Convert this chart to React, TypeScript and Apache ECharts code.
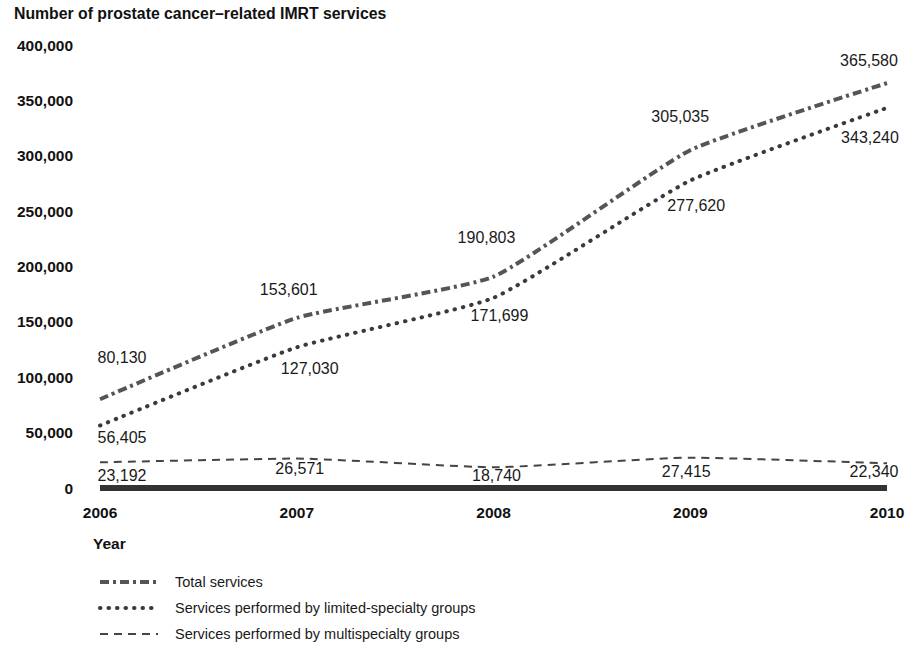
import React, { useEffect, useRef } from "react";
import * as echarts from "echarts";

const years = ["2006", "2007", "2008", "2009", "2010"];
const totalServices = [80130, 153601, 190803, 305035, 365580];
const limitedSpecialty = [56405, 127030, 171699, 277620, 343240];
const multiSpecialty = [23192, 26571, 18740, 27415, 22340];
const seriesNames = [
  "Total services",
  "Services performed by limited-specialty groups",
  "Services performed by multispecialty groups",
];
const yTicks = { min: 0, max: 400000, interval: 50000 };
const titleText = "Number of prostate cancer\u2013related IMRT services";
const xAxisTitle = "Year";

// label offsets (styling only)
const totalOffsets = [[22, -42], [-8, -28], [-7, -39], [-10, -34], [-18, -23]];
const limitedOffsets = [[22, 12], [13, 21], [6, 18], [6, 25], [-17, 30]];
const multiOffsets = [[22, 13], [3, 10], [3, 8], [-4, 14], [-13, 8]];

const FONT = "'Liberation Sans', Arial, Helvetica, sans-serif";

function withLabels(values: number[], offsets: number[][]) {
  return values.map((v, i) => ({
    value: v,
    label: { offset: offsets[i] },
  }));
}

export default function App() {
  const ref = useRef<HTMLDivElement>(null);
  useEffect(() => {
    if (!ref.current) return;
    const chart = echarts.init(ref.current, null, { renderer: "svg" });
    const baseLabel = {
      show: true,
      position: "inside",
      color: "#1a1a1a",
      fontSize: 16,
      fontFamily: FONT,
      formatter: (p: any) => Number(p.value).toLocaleString("en-US"),
    };
    const commonSeries = {
      type: "line",
      symbol: "circle",
      symbolSize: 2,
      showSymbol: true,
      itemStyle: { color: "rgba(0,0,0,0)" },
      smooth: 0.15,
      silent: true,
      emphasis: { disabled: true },
      z: 3,
    };
    const legendY = [582, 608, 634];
    const legendStyles = [
      { stroke: "#555", lineWidth: 4, lineDash: [9, 4, 3, 4], lineCap: "butt" },
      { stroke: "#3a3a3a", lineWidth: 4, lineDash: [0.5, 8], lineCap: "round" },
      { stroke: "#444", lineWidth: 2, lineDash: [8, 6], lineCap: "butt" },
    ];
    const graphics: any[] = [
      {
        type: "text",
        left: 14,
        top: 5,
        style: { text: titleText, font: `bold 15.8px ${FONT}`, fill: "#111" },
      },
      {
        type: "text",
        left: 93,
        top: 535,
        style: { text: xAxisTitle, font: `bold 15.5px ${FONT}`, fill: "#111" },
      },
    ];
    seriesNames.forEach((name, i) => {
      graphics.push({
        type: "line",
        shape: { x1: 100, y1: legendY[i], x2: 158, y2: legendY[i] },
        style: legendStyles[i],
      });
      graphics.push({
        type: "text",
        left: 175,
        top: legendY[i] - 8,
        style: { text: name, font: `14.5px ${FONT}`, fill: "#1a1a1a" },
      });
    });

    chart.setOption({
      animation: false,
      backgroundColor: "#fff",
      grid: { left: 100, right: 32, top: 45, bottom: 163, containLabel: false },
      xAxis: {
        type: "category",
        data: years,
        boundaryGap: false,
        axisLine: { show: true, lineStyle: { color: "#333", width: 6, cap: "butt" } },
        axisTick: { show: false },
        axisLabel: {
          color: "#111",
          fontFamily: FONT,
          fontWeight: "bold",
          fontSize: 15.5,
          margin: 16,
        },
        splitLine: { show: false },
      },
      yAxis: {
        type: "value",
        min: yTicks.min,
        max: yTicks.max,
        interval: yTicks.interval,
        axisLine: { show: false },
        axisTick: { show: false },
        splitLine: { show: false },
        axisLabel: {
          color: "#111",
          fontFamily: FONT,
          fontWeight: "bold",
          fontSize: 15.5,
          margin: 27,
          formatter: (v: number) => v.toLocaleString("en-US"),
        },
      },
      series: [
        {
          ...commonSeries,
          name: seriesNames[0],
          data: withLabels(totalServices, totalOffsets),
          lineStyle: { color: "#555", width: 4, type: [9, 4, 3, 4], cap: "butt" },
          label: baseLabel,
        },
        {
          ...commonSeries,
          name: seriesNames[1],
          data: withLabels(limitedSpecialty, limitedOffsets),
          lineStyle: { color: "#3a3a3a", width: 4, type: [0.5, 8], cap: "round" },
          label: baseLabel,
        },
        {
          ...commonSeries,
          name: seriesNames[2],
          data: withLabels(multiSpecialty, multiOffsets),
          lineStyle: { color: "#444", width: 2, type: [8, 6], cap: "butt" },
          label: baseLabel,
        },
      ],
      graphic: graphics,
    });
    return () => chart.dispose();
  }, []);
  return <div ref={ref} style={{ width: 919, height: 651, position: "absolute", left: 0, top: 0 }} />;
}
